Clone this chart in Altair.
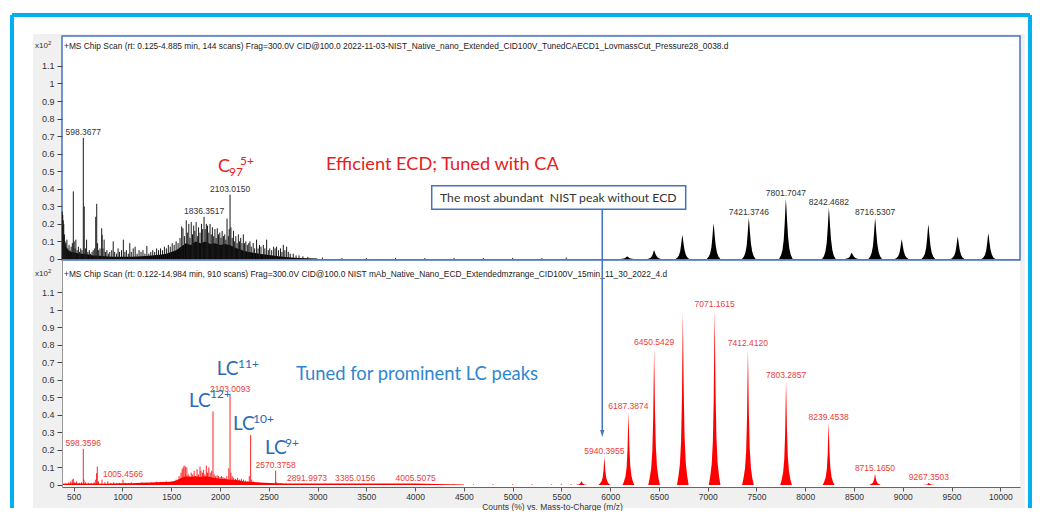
import altair as alt
import pandas as pd

# ---------------- data ----------------
# m/z range and tick values
x_domain = [380, 10202]
x_ticks = [500, 1000, 1500, 2000, 2500, 3000, 3500, 4000, 4500, 5000, 5500,
           6000, 6500, 7000, 7500, 8000, 8500, 9000, 9500, 10000]
y_ticks = [0, 0.1, 0.2, 0.3, 0.4, 0.5, 0.6, 0.7, 0.8, 0.9, 1.0, 1.1]

# --- top spectrum (black): centroid sticks (m/z, counts x10^2)
top_sticks = [
    (383, .27), (388, .25), (393, .22), (398, .20), (405, .14), (412, .10), (420, .09), (430, .11),
    (440, .06), (452, .08), (462, .05), (474, .07), (486, .09), (496, .385), (505, .10), (514, .06),
    (522, .11), (535, .05), (548, .07), (560, .04), (572, .06), (585, .05), (598.3677, .69), (608, .30),
    (620, .06), (632, .11), (645, .04), (660, .05), (672, .03), (688, .04), (700, .05), (715, .06),
    (726, .24), (736, .314), (745, .09), (756, .05), (770, .06), (787, .175), (792, .137), (800, .06),
    (812, .11), (825, .04), (840, .05), (855, .03), (870, .04), (890, .05), (905, .10), (920, .04),
    (940, .03), (955, .06), (970, .04), (990, .05), (1009, .11), (1025, .04), (1040, .05), (1060, .03),
    (1075, .09), (1090, .04), (1110, .06), (1130, .07), (1150, .03), (1170, .05), (1190, .04), (1210, .05),
    (1230, .03), (1250, .074), (1270, .03), (1290, .04), (1310, .05), (1330, .04), (1350, .06), (1370, .05),
    (1390, .06), (1410, .05), (1430, .07), (1450, .06), (1470, .08), (1490, .07), (1510, .09), (1530, .08),
    (1550, .10), (1570, .09), (1590, .12), (1607, .185), (1620, .175), (1635, .13), (1654, .22), (1665, .15),
    (1680, .20), (1692, .12), (1705, .21), (1718, .14), (1730, .19), (1742, .16), (1755, .21), (1768, .13),
    (1780, .18), (1795, .15), (1810, .20), (1822, .17), (1836.3517, .24), (1848, .17), (1860, .20), (1872, .19),
    (1885, .15), (1898, .20), (1910, .14), (1922, .18), (1935, .13), (1948, .17), (1960, .12), (1972, .175),
    (1985, .14), (1998, .15), (2010, .12), (2022, .16), (2035, .13), (2048, .14), (2060, .11), (2072, .23),
    (2085, .13), (2094, .17), (2103.0150, .366), (2112, .18), (2125, .12), (2138, .16), (2150, .10), (2162, .13),
    (2175, .09), (2188, .14), (2200, .10), (2212, .12), (2225, .09), (2239, .14), (2252, .09), (2265, .10),
    (2280, .08), (2295, .09), (2307, .10), (2320, .07), (2340, .09), (2355, .06), (2375, .11), (2390, .06),
    (2405, .08), (2420, .07), (2444, .08), (2460, .06), (2478, .11), (2495, .05), (2510, .06), (2530, .05),
    (2550, .07), (2565, .06), (2580, .07), (2600, .05), (2620, .06), (2635, .04), (2649, .08), (2665, .05),
    (2683, .07), (2700, .04), (2720, .03), (2751, .03), (2780, .02), (2810, .02), (2850, .015), (2900, .012),
    (3050, .008), (3250, .006), (3500, .005), (3800, .006), (4100, .005), (4400, .006), (4700, .005),
    (5000, .006), (5300, .005), (5550, .008),
]
# dense baseline (chemical noise) under the sticks
top_fill_mz = [380, 400, 420, 450, 480, 520, 560, 600, 650, 700, 760, 820, 900, 1000, 1100, 1200,
               1300, 1400, 1450, 1500, 1550, 1600, 1650, 1700, 1750, 1800, 1850, 1900, 1950, 2000,
               2050, 2100, 2150, 2200, 2250, 2300, 2400, 2500, 2600, 2700, 2800, 2900, 3000]
top_fill_int = [0.2, 0.12, 0.07, 0.045, 0.04, 0.035, 0.03, 0.03, 0.025, 0.02, 0.018, 0.015, 0.012,
                0.012, 0.013, 0.016, 0.02, 0.025, 0.03, 0.04, 0.05, 0.07, 0.09, 0.08, 0.1, 0.09, 0.1,
                0.085, 0.09, 0.08, 0.085, 0.08, 0.065, 0.055, 0.045, 0.04, 0.03, 0.022, 0.015, 0.01,
                0.006, 0.004, 0.002]
# charge-state envelopes (centre m/z, apex)
top_env_mz = [6175, 6450, 6740, 7060, 7421.3746, 7801.7047, 8242.4682, 8476, 8716.5307, 8989, 9262, 9563, 9877]
top_env_int = [0.015, 0.05, 0.137, 0.204, 0.232, 0.341, 0.29, 0.036, 0.232, 0.112, 0.198, 0.128, 0.147]
top_shape_offset = [-70, -50, -35, -22, -12, -5, 0, 5, 12, 22, 35, 50, 70]
top_shape_rel = [0, 0.06, 0.15, 0.32, 0.6, 0.85, 1.0, 0.88, 0.65, 0.38, 0.18, 0.07, 0]
top_labels = ["598.3677", "1836.3517", "2103.0150", "7421.3746", "7801.7047", "8242.4682", "8716.5307"]
top_label_int = [0.69, 0.24, 0.366, 0.232, 0.341, 0.29, 0.232]

# --- bottom spectrum (red)
bot_sticks = [
    (400, .008), (420, .01), (450, .015), (470, .02), (485, .03), (496, .035), (510, .015), (530, .02),
    (560, .012), (580, .015), (598.3596, .206), (605, .03), (620, .015), (650, .012), (680, .01), (710, .015),
    (726, .03), (735, .067), (742, .105), (755, .02), (790, .03), (820, .015), (850, .02), (880, .012),
    (910, .015), (940, .01), (970, .012), (1005.4566, .03), (1030, .012), (1060, .01), (1090, .015),
    (1120, .01), (1160, .012), (1200, .015), (1250, .012), (1300, .015), (1350, .018), (1400, .015),
    (1450, .02), (1500, .02), (1550, .03), (1580, .05), (1600, .07), (1612, .09), (1622, .10), (1632, .11),
    (1645, .105), (1660, .10), (1675, .06), (1690, .05), (1705, .07), (1720, .06), (1735, .08), (1750, .05),
    (1765, .09), (1780, .06), (1795, .105), (1805, .08), (1820, .07), (1832, .086), (1845, .06), (1860, .11),
    (1872, .07), (1885, .10), (1900, .07), (1915, .08), (1928.3, .42), (1940, .06), (1955, .05), (1970, .055),
    (1985, .05), (2000, .045), (2015, .05), (2030, .045), (2050, .04), (2070, .05), (2090, .095),
    (2103.0093, .514), (2112, .07), (2125, .05), (2140, .04), (2160, .035), (2180, .04), (2200, .03),
    (2220, .035), (2240, .03), (2260, .025), (2280, .02), (2300, .05), (2313.8, .286), (2325, .03),
    (2345, .02), (2370, .015), (2400, .015), (2430, .012), (2460, .01), (2500, .012), (2540, .01),
    (2570.3758, .082), (2580, .015), (2620, .008), (2680, .006), (2750, .005), (2891.9973, .006),
    (3385.0156, .006), (4005.5075, .006), (4200, .004), (4400, .005), (4600, .004), (4800, .005),
    (5000, .004), (5200, .005), (5400, .004), (5500, .006), (5600, .005),
]
bot_fill_mz = [380, 450, 500, 600, 700, 800, 900, 1000, 1100, 1200, 1300, 1400, 1500, 1550, 1600,
               1650, 1700, 1750, 1800, 1850, 1900, 1950, 2000, 2050, 2100, 2150, 2200, 2250, 2300,
               2400, 2500, 2600, 2700, 2800, 3000, 3500, 4000, 4200, 4500]
bot_fill_int = [0.005, 0.008, 0.01, 0.008, 0.008, 0.007, 0.008, 0.01, 0.01, 0.012, 0.014, 0.016,
                0.018, 0.025, 0.04, 0.05, 0.045, 0.05, 0.045, 0.05, 0.045, 0.04, 0.035, 0.035, 0.03,
                0.03, 0.025, 0.02, 0.018, 0.014, 0.011, 0.009, 0.008, 0.008, 0.008, 0.008, 0.008,
                0.005, 0.002]
bot_env_mz = [5705, 5940.3955, 6187.3874, 6450.5429, 6745, 7071.1615, 7412.4120, 7803.2857,
              8239.4538, 8715.1650, 9267.3503]
bot_env_int = [0.022, 0.16, 0.415, 0.78, 0.985, 1.0, 0.775, 0.595, 0.356, 0.063, 0.012]
bot_shape_offset = [-60, -45, -30, -18, -9, -4, 0, 4, 9, 18, 30, 45, 60]
bot_shape_rel = [0, 0.05, 0.12, 0.25, 0.5, 0.78, 1.0, 0.82, 0.55, 0.28, 0.13, 0.05, 0]
bot_labels = ["598.3596", "1005.4566", "2103.0093", "2570.3758", "2891.9973", "3385.0156", "4005.5075",
              "5940.3955", "6187.3874", "6450.5429", "7071.1615", "7412.4120", "7803.2857", "8239.4538",
              "8715.1650", "9267.3503"]
bot_label_int = [0.206, 0.03, 0.514, 0.082, 0.006, 0.006, 0.006, 0.16, 0.415, 0.78, 1.0, 0.775,
                 0.595, 0.356, 0.063, 0.012]

# texts
top_header = ("+MS Chip Scan (rt: 0.125-4.885 min, 144 scans) Frag=300.0V CID@100.0 "
              "2022-11-03-NIST_Native_nano_Extended_CID100V_TunedCAECD1_LovmassCut_Pressure28_0038.d")
bot_header = ("+MS Chip Scan (rt: 0.122-14.984 min, 910 scans) Frag=300.0V CID@100.0 "
              "NIST mAb_Native_Nano_ECD_Extendedmzrange_CID100V_15min_11_30_2022_4.d")
x_title = "Counts (%) vs. Mass-to-Charge (m/z)"
note_red = "Efficient ECD; Tuned with CA"
note_box = "The most abundant\u00a0 NIST peak without ECD"
note_blue = "Tuned for prominent LC peaks"
arrow_mz = 5919

# ---------------- tables ----------------
def sticks_df(pairs):
    return pd.DataFrame(pairs, columns=["mz", "int"])

def env_df(centres, apex, offs, rel):
    rows = []
    for i, (c, h) in enumerate(zip(centres, apex)):
        for o, r in zip(offs, rel):
            rows.append({"peak": i, "mz": c + o, "int": h * r})
    return pd.DataFrame(rows)

top_st = sticks_df(top_sticks)
top_fill = pd.DataFrame({"mz": top_fill_mz, "int": top_fill_int})
top_env = env_df(top_env_mz, top_env_int, top_shape_offset, top_shape_rel)
top_lab = pd.DataFrame({"lab": top_labels, "mz": [float(s) for s in top_labels], "int": top_label_int})

bot_st = sticks_df(bot_sticks)
bot_fill = pd.DataFrame({"mz": bot_fill_mz, "int": bot_fill_int})
bot_env = env_df(bot_env_mz, bot_env_int, bot_shape_offset, bot_shape_rel)
bot_lab = pd.DataFrame({"lab": bot_labels, "mz": [float(s) for s in bot_labels], "int": bot_label_int})

# ---------------- styling ----------------
W, H_TOP, H_BOT = 958, 224, 227
BOTTOM_EDGE = 472          # lowest drawn pixel (relative to top panel) so the page does not overflow
RIGHT_EDGE = 968           # right cyan border (relative to top panel) so the page does not overflow
BLUE = "#4472c4"
CYAN = "#00b0f0"
RED = "#ff0000"
LABEL_FONT = "Liberation Sans"
NOTE_FONT = "Lato"
HEADER_SIZE = 8.4
ONE = alt.Data(values=[{"k": 1}])

xs = alt.Scale(domain=x_domain, nice=False, zero=False)
ys_top = alt.Scale(domain=[-0.006, 1.2704], nice=False, zero=False)
ys_bot = alt.Scale(domain=[-0.012, 1.285], nice=False, zero=False)

yaxis_common = dict(values=y_ticks, format="~g", tickSize=5, tickColor="#444", labelPadding=3,
                    labelFontSize=9, labelColor="#333", labelFont=LABEL_FONT, title=None,
                    grid=False, zindex=1)
top_yaxis = alt.Axis(domain=False, **yaxis_common)
bot_yaxis = alt.Axis(domain=True, domainColor="#999", **yaxis_common)
bot_xaxis = alt.Axis(values=x_ticks, format="d", tickSize=4, tickColor="#555", domainColor="#666",
                     labelPadding=1, labelFontSize=8.5, labelColor="#333", labelFont=LABEL_FONT,
                     title=x_title, titleFont=LABEL_FONT, titleFontSize=8.5, titleFontWeight="normal",
                     titleColor="#333", titleX=490, titleY=19, titleBaseline="middle",
                     grid=False, zindex=1)


def rect(x, x2, y, y2, **kw):
    return alt.Chart(ONE).mark_rect(**kw).encode(
        x=alt.value(x), x2=alt.value(x2), y=alt.value(y), y2=alt.value(y2))


def vrule(x, y, y2, **kw):
    return alt.Chart(ONE).mark_rule(**kw).encode(x=alt.value(x), y=alt.value(y), y2=alt.value(y2))


def hrule(x, x2, y, **kw):
    return alt.Chart(ONE).mark_rule(**kw).encode(x=alt.value(x), x2=alt.value(x2), y=alt.value(y))


def txt(s, x, y, size, color, font=NOTE_FONT, baseline="alphabetic", align="left"):
    return alt.Chart(ONE).mark_text(text=s, fontSize=size, color=color, font=font,
                                    baseline=baseline, align=align).encode(
        x=alt.value(x), y=alt.value(y))


# ---------------- top panel ----------------
xt = alt.X("mz:Q", scale=xs, axis=None)
yt = alt.Y("int:Q", scale=ys_top, axis=top_yaxis)

top = alt.layer(
    # page decoration: cyan outer frame and grey workspace
    vrule(-50, -21, BOTTOM_EDGE, color=CYAN, strokeWidth=4),
    hrule(-50, RIGHT_EDGE, -21, color=CYAN, strokeWidth=4),
    vrule(RIGHT_EDGE, -21, BOTTOM_EDGE, color=CYAN, strokeWidth=4),
    rect(-29, RIGHT_EDGE - 5, -2, BOTTOM_EDGE, color="#f0f0f0"),
    rect(0, W, 0, H_TOP, fill="white", stroke=BLUE, strokeWidth=1.5),
    # spectrum
    alt.Chart(top_fill).mark_area(color="#000", interpolate="linear").encode(x=xt, y=yt),
    alt.Chart(top_st).mark_rule(color="#1a1a1a", strokeWidth=1).encode(x=xt, y=yt, y2=alt.datum(0)),
    alt.Chart(top_env).mark_area(color="#000", interpolate="linear").encode(
        x=xt, y=yt, detail="peak:N"),
    alt.Chart(top_lab).mark_text(fontSize=8.5, font=LABEL_FONT, color="#333", dy=-6,
                                 baseline="middle").encode(x=xt, y=yt, text="lab:N"),
    # header
    txt("x10", -27, 10, 8, "#333", font=LABEL_FONT, baseline="middle"),
    txt("2", -14, 7, 6, "#333", font=LABEL_FONT, baseline="middle"),
    txt(top_header, 2, 10, HEADER_SIZE, "#222", font=LABEL_FONT, baseline="middle"),
    # annotations
    txt("C", 156, 136, 18, "#e8201c"),
    txt("97", 167, 140, 12, "#e8201c"),
    txt("5+", 178, 129, 12, "#e8201c"),
    txt(note_red, 264, 134, 18.2, "#e8201c"),
    rect(369.7, 623.7, 149.7, 173.3, fill="white", stroke=BLUE, strokeWidth=1.5),
    txt(note_box, 378, 165.5, 12.2, "#333"),
).properties(width=W, height=H_TOP, view=alt.ViewBackground(strokeWidth=0))

# ---------------- bottom panel ----------------
xb = alt.X("mz:Q", scale=xs, axis=bot_xaxis)
yb = alt.Y("int:Q", scale=ys_bot, axis=bot_yaxis)
LC = "#2a6ab4"

bottom = alt.layer(
    hrule(0, W, 0, color=BLUE, strokeWidth=1.5),
    alt.Chart(bot_fill).mark_area(color=RED, interpolate="linear").encode(x=xb, y=yb),
    alt.Chart(bot_st).mark_rule(color=RED, strokeWidth=1, opacity=0.85).encode(
        x=xb, y=yb, y2=alt.datum(0)),
    alt.Chart(bot_env).mark_area(color=RED, interpolate="linear").encode(
        x=xb, y=yb, detail="peak:N"),
    alt.Chart(bot_lab).mark_text(fontSize=8.5, font=LABEL_FONT, color="#ef3b3b", dy=-6,
                                 baseline="middle").encode(x=xb, y=yb, text="lab:N"),
    # header
    txt("x10", -27, 14, 8, "#333", font=LABEL_FONT, baseline="middle"),
    txt("2", -14, 11, 6, "#333", font=LABEL_FONT, baseline="middle"),
    txt(bot_header, 2, 14, HEADER_SIZE, "#222", font=LABEL_FONT, baseline="middle"),
    # annotations
    txt(note_blue, 234, 120, 18.4, "#2f86d0"),
    txt("LC", 154.7, 115, 19, LC), txt("11+", 176, 108, 12, LC),
    txt("LC", 127, 147, 19, LC), txt("12+", 148, 138, 12, LC),
    txt("LC", 171, 170, 19, LC), txt("10+", 191, 163, 12, LC),
    txt("LC", 203, 194, 19, LC), txt("9+", 223, 187, 12, LC),
    # arrow from the note box (top panel) down to the 5940 peak
    alt.Chart(ONE).mark_rule(color=BLUE, strokeWidth=1.5).encode(
        x=alt.X(datum=arrow_mz, scale=xs), y=alt.value(-50.7), y2=alt.value(173)),
    alt.Chart(ONE).mark_point(shape="M -0.6 -1 L 0.6 -1 L 0 1 Z", size=49, filled=True,
                              color=BLUE, opacity=1).encode(
        x=alt.X(datum=arrow_mz, scale=xs), y=alt.value(173.5)),
).properties(width=W, height=H_BOT, view=alt.ViewBackground(fill="white", strokeWidth=0))

chart = alt.vconcat(top, bottom, spacing=0, bounds="flush").properties(
    padding={"left": 2, "top": 5, "right": 0, "bottom": 0},
    background="white",
)

chart.save("out.html", embed_options={"renderer": "svg", "actions": False})
